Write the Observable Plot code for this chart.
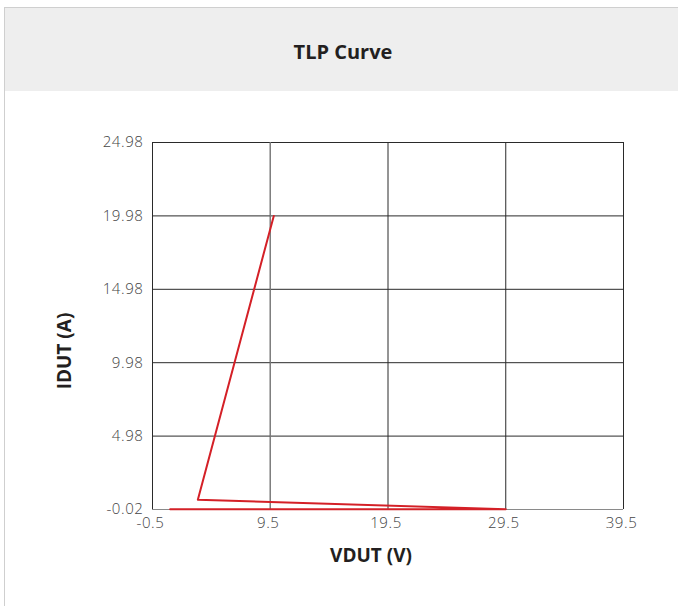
<!DOCTYPE html>
<html>
<head>
<meta charset="utf-8">
<script src="https://cdn.jsdelivr.net/npm/d3@7"></script>
<script src="https://cdn.jsdelivr.net/npm/@observablehq/plot@0.6"></script>
<style>
  html, body { margin: 0; padding: 0; background: #fff; }
  #page { position: relative; width: 678px; height: 606px; overflow: hidden; font-family: "Open Sans", sans-serif; }
  #frame { position: absolute; left: 4px; top: 7px; width: 680px; height: 610px; border-left: 1px solid #cfcfcf; border-top: 1px solid #cfcfcf; }
  #header { position: absolute; left: 5px; top: 8px; width: 673px; height: 83px; background: #eeeeee; display: flex; align-items: center; justify-content: center; }
  #header span { font-weight: bold; font-size: 20px; color: #231f20; margin-left: 3px; margin-top: 3px; }
  #chart { position: absolute; left: 0; top: 91px; }
</style>
</head>
<body>
<div id="page">
  <div id="frame"></div>
  <div id="header"><span>TLP Curve</span></div>
  <div id="chart"></div>
</div>
<script>
const vdut = [1.0, 29.5, 3.35, 9.8];
const idut = [0, 0, 0.65, 19.98];
const xTicks = [-0.5, 9.5, 19.5, 29.5, 39.5];
const yTicks = [-0.02, 4.98, 9.98, 14.98, 19.98, 24.98];
const xLabel = "VDUT (V)";
const yLabel = "IDUT (A)";

const data = vdut.map((v, i) => ({v, i: idut[i]}));
const fmtX = d => String(d);
const fmtY = d => d.toFixed(2);

const chart = Plot.plot({
  width: 678,
  height: 515,
  marginLeft: 152,
  marginRight: 55,
  marginTop: 51,
  marginBottom: 97,
  style: { fontFamily: "'Open Sans', sans-serif", fontSize: "15px", color: "#444", background: "transparent" },
  x: { domain: [-0.5, 39.5], ticks: xTicks, tickFormat: fmtX, label: null },
  y: { domain: [-0.02, 24.98], ticks: yTicks, tickFormat: fmtY, label: null },
  marks: [
    Plot.ruleX(xTicks, { stroke: "#2a2a2a", strokeWidth: 1 }),
    Plot.ruleY(yTicks, { stroke: "#2a2a2a", strokeWidth: 1 }),
    Plot.ruleX([9.5], { stroke: "#8a8a8a", strokeWidth: 1 }),
    Plot.ruleY([-0.02], { stroke: "#8a8a8a", strokeWidth: 1.2 }),
    Plot.axisX({ ticks: xTicks, tickSize: 0, tickPadding: 8, tickFormat: fmtX, label: null, fill: "#444", dx: -2 }),
    Plot.axisY({ ticks: yTicks, tickSize: 0, tickPadding: 9, tickFormat: fmtY, label: null, fill: "#444" }),
    Plot.line(data, { x: "v", y: "i", stroke: "#d42027", strokeWidth: 2, curve: "linear" }),
    Plot.text([xLabel], { frameAnchor: "bottom", textAnchor: "middle", text: d => d, dy: 52, dx: -17, fontSize: 19, fontWeight: "bold", fill: "#231f20" }),
    Plot.text([yLabel], { frameAnchor: "left", textAnchor: "middle", text: d => d, rotate: -90, dx: -88, dy: 25, fontSize: 19, fontWeight: "bold", fill: "#231f20" })
  ]
});
const tickTexts = new Set([...xTicks.map(fmtX), ...yTicks.map(fmtY)]);
d3.select(chart).selectAll("text").each(function() {
  if (tickTexts.has(this.textContent.trim())) {
    this.style.fontSize = "15px";
    this.style.fontWeight = "300";
    this.style.letterSpacing = "0.6px";
    this.style.fill = "#444";
  }
});
document.getElementById("chart").appendChild(chart);
</script>
</body>
</html>
